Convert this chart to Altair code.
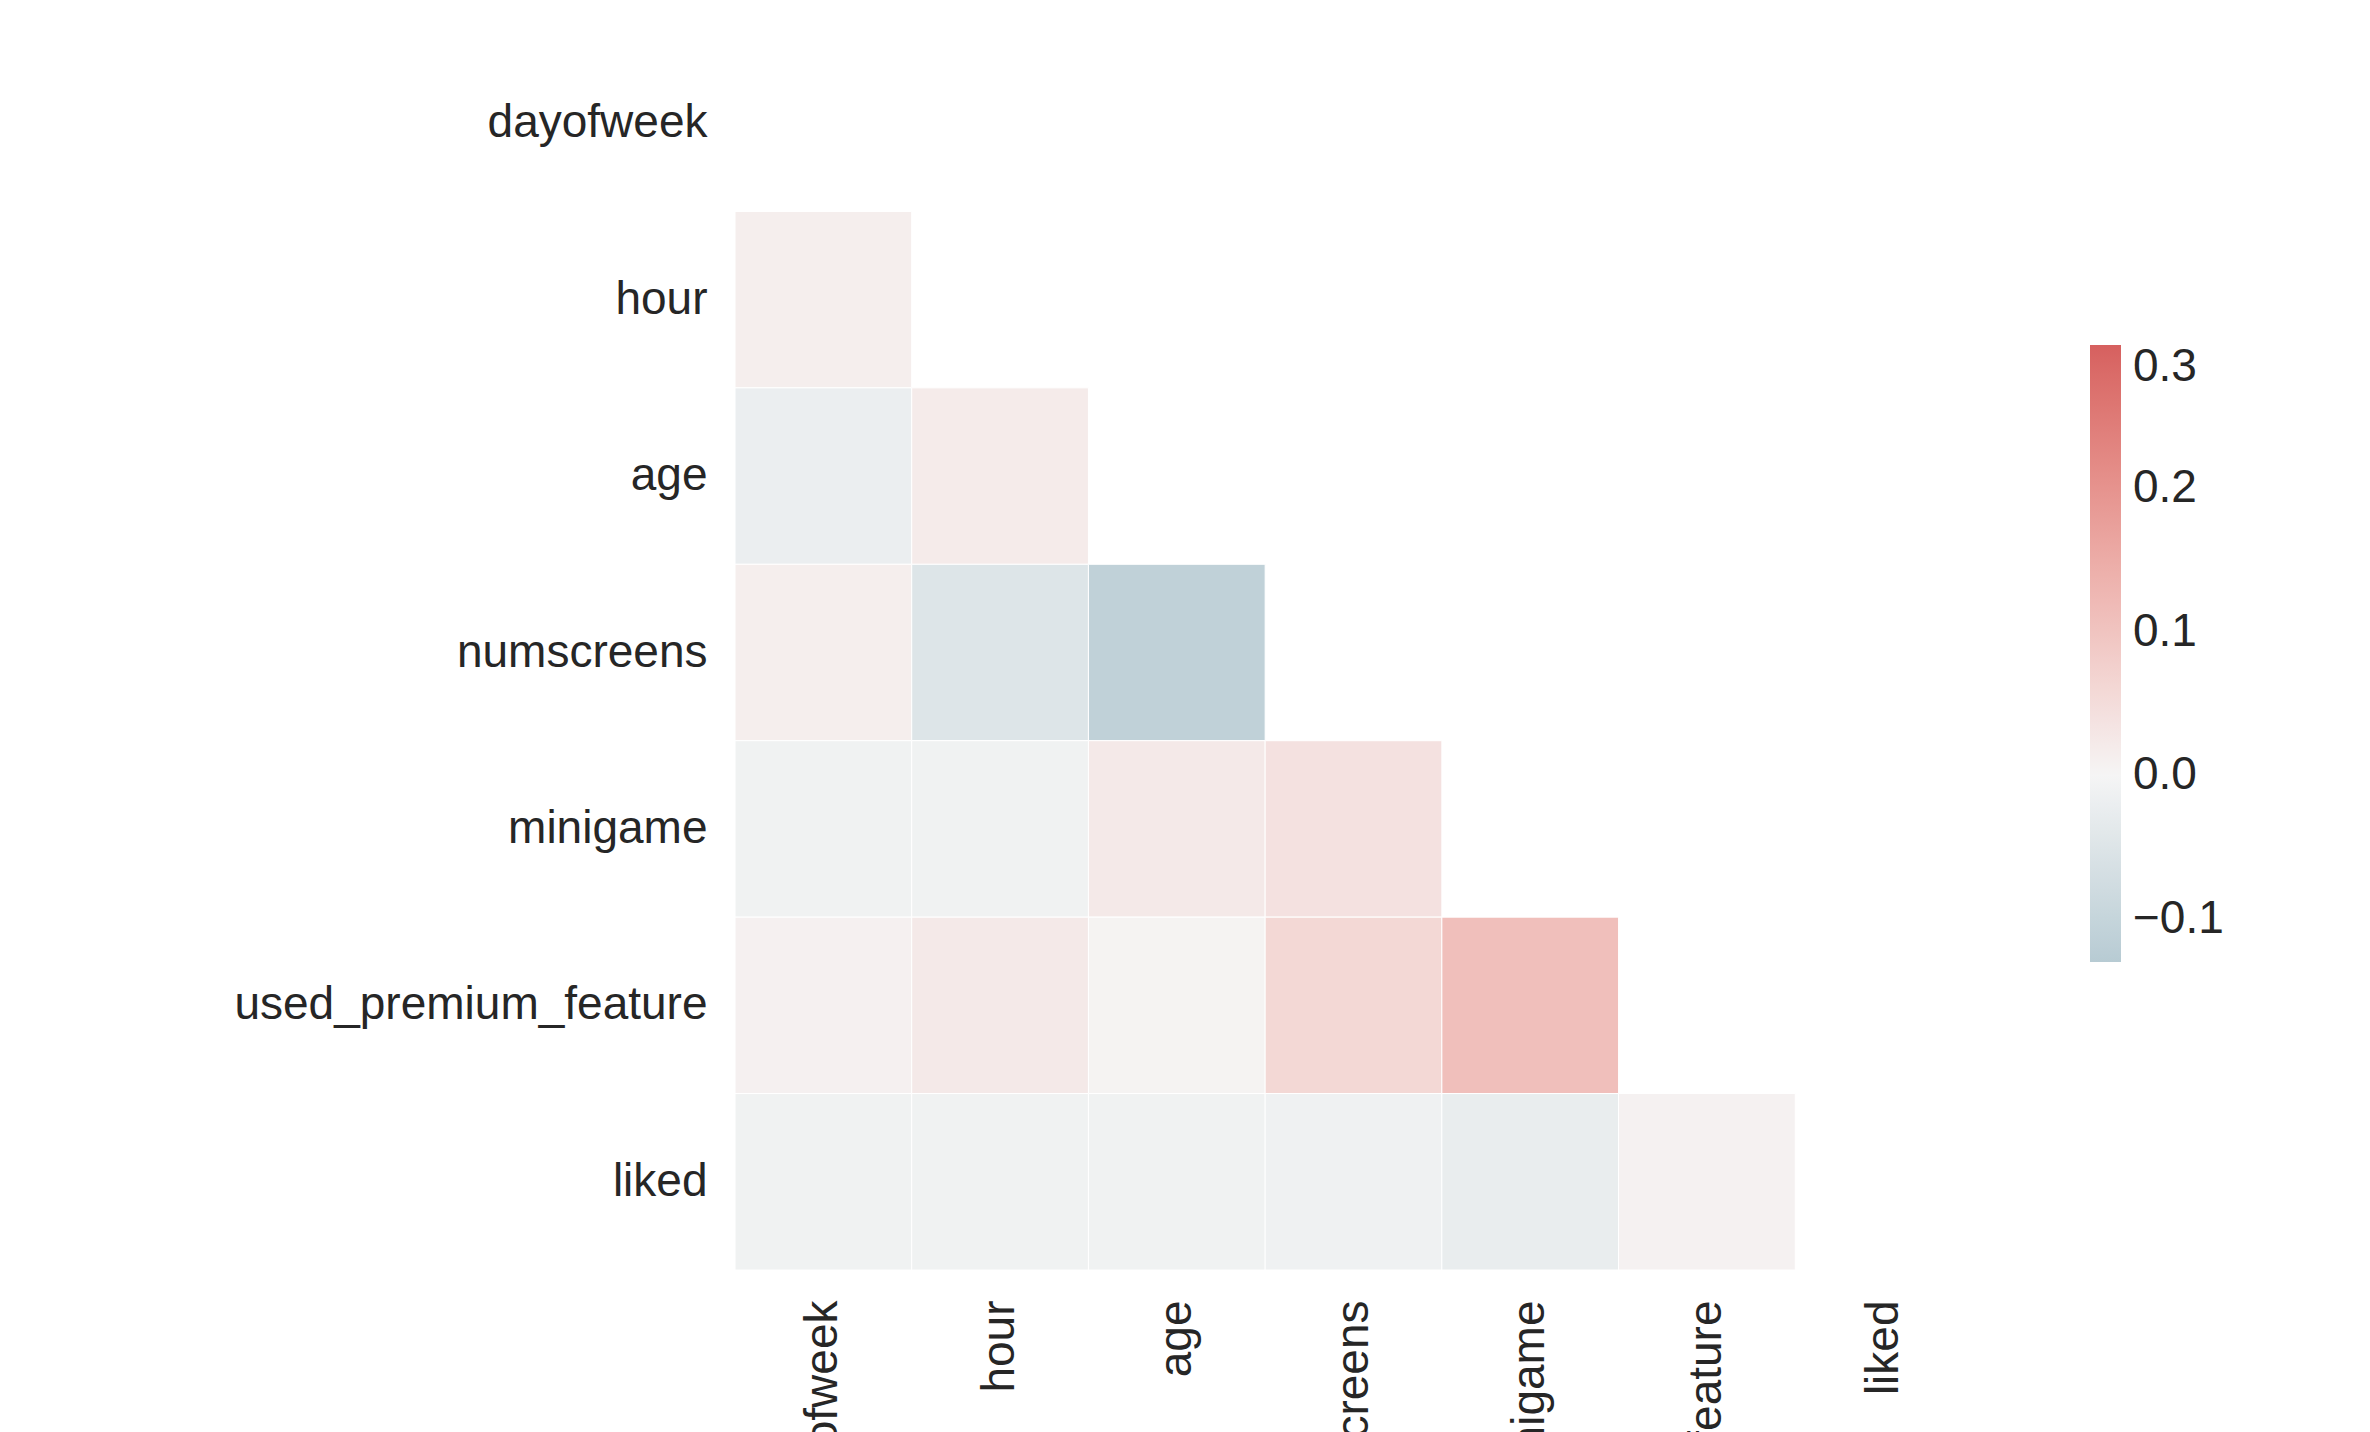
import altair as alt
import pandas as pd

features = ["dayofweek", "hour", "age", "numscreens", "minigame",
            "used_premium_feature", "liked"]

# lower-triangle correlations, row by row (row feature vs earlier columns)
corr_rows = {
    "hour": [0.015],
    "age": [-0.02, 0.02],
    "numscreens": [0.015, -0.05, -0.11],
    "minigame": [-0.01, -0.01, 0.025, 0.04],
    "used_premium_feature": [0.01, 0.025, 0.005, 0.06, 0.11],
    "liked": [-0.01, -0.01, -0.01, -0.012, -0.025, 0.008],
}

records = []
for row, vals in corr_rows.items():
    for col, v in zip(features, vals):
        records.append({"row": row, "col": col, "corr": v})
df = pd.DataFrame(records)

ax_font = "Liberation Sans"
fs = 46

chart = alt.Chart(df).mark_rect(stroke="white", strokeWidth=1).encode(
    x=alt.X("col:N", sort=features, scale=alt.Scale(domain=features, paddingInner=0, paddingOuter=0), title=None,
            axis=alt.Axis(labelAngle=270, labelAlign="right", labelBaseline="middle",
                          labelFontSize=fs, labelColor="#262626", labelFont=ax_font,
                          domain=False, ticks=False, labelPadding=30, labelLimit=1000)),
    y=alt.Y("row:N", sort=features, scale=alt.Scale(domain=features, paddingInner=0, paddingOuter=0), title=None,
            axis=alt.Axis(labelFontSize=fs, labelColor="#262626", labelFont=ax_font,
                          domain=False, ticks=False, labelPadding=28, labelLimit=1000)),
    color=alt.Color("corr:Q",
                    scale=alt.Scale(domain=[-0.13, 0, 0.3], range=["#b7cbd3", "#f5f5f5", "#d6605f"]),
                    legend=alt.Legend(title=None, orient="none", legendX=1355, legendY=310,
                                      gradientLength=617, gradientThickness=31,
                                      values=[-0.1, 0.0, 0.1, 0.2, 0.3], format=".1f",
                                      labelFontSize=fs, labelColor="#262626", labelFont=ax_font,
                                      labelOffset=12)),
).properties(
    width=1237, height=1235,
    autosize=alt.AutoSizeParams(type="none"),
    padding={"left": 727, "top": 27, "right": 390, "bottom": 400},
).configure_view(stroke=None)

chart.save("out.html", embed_options={"renderer": "svg", "actions": False})
